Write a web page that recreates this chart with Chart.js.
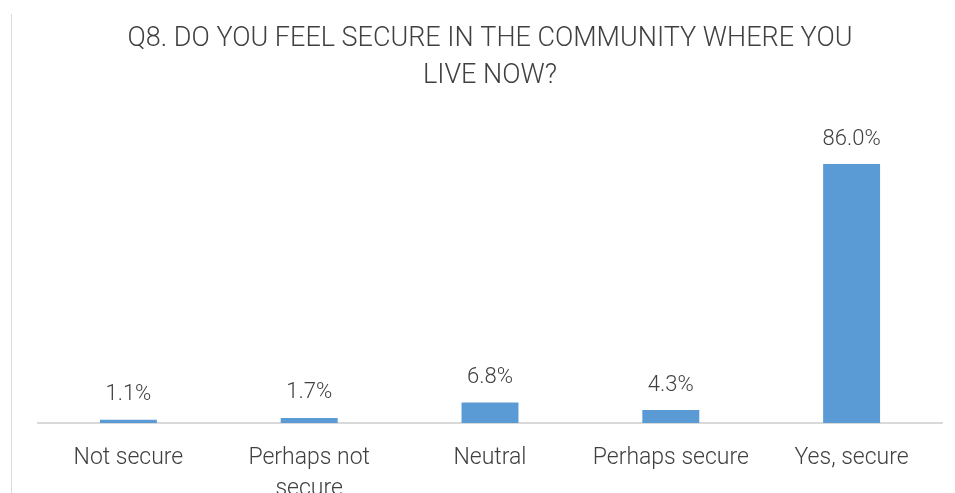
<!DOCTYPE html>
<html>
<head>
<meta charset="utf-8">
<script src="https://cdn.jsdelivr.net/npm/chart.js@4"></script>
<style>
  html, body { margin: 0; padding: 0; background: #fff; overflow: hidden; }
  #frame { position: absolute; left: 11px; top: 14px; width: 944px; height: 500px; border-left: 1px solid #d9d9d9; }
  #wrap { position: absolute; left: 0; top: 0; width: 955px; height: 520px; }
</style>
</head>
<body>
<div id="frame"></div>
<div id="wrap"><canvas id="myChart"></canvas></div>
<script>
var categories = ['Not secure', ['Perhaps not', 'secure'], 'Neutral', 'Perhaps secure', 'Yes, secure'];
var percents = [1.1, 1.7, 6.8, 4.3, 86.0];

var textColor = '#404040';
var fontName = 'Roboto';

// value label above each bar
var valueLabels = {
    id: 'valueLabels',
    afterDatasetsDraw: function(chart) {
        var ctx = chart.ctx;
        var meta = chart.getDatasetMeta(0);
        ctx.save();
        ctx.font = '300 22px ' + fontName;
        ctx.fillStyle = textColor;
        ctx.textAlign = 'center';
        ctx.textBaseline = 'middle';
        meta.data.forEach(function(bar, i) {
            ctx.fillText(percents[i].toFixed(1) + '%', bar.x, bar.y - 25);
        });
        ctx.restore();
    }
};

var ctx = document.getElementById('myChart').getContext('2d');
var chart = new Chart(ctx, {
    type: 'bar',
    data: {
        labels: categories,
        datasets: [{
            label: 'Q8',
            backgroundColor: '#5b9bd5',
            data: percents,
            categoryPercentage: 1,
            barPercentage: 0.315
        }]
    },
    options: {
        responsive: true,
        maintainAspectRatio: false,
        animation: false,
        layout: { padding: { left: 38, right: 13, top: 0, bottom: 0 } },
        plugins: {
            legend: { display: false },
            tooltip: { enabled: false },
            title: {
                display: true,
                fullSize: false,
                text: ['Q8. DO YOU FEEL SECURE IN THE COMMUNITY WHERE YOU', 'LIVE NOW?'],
                color: textColor,
                font: { family: fontName, size: 27, weight: '300', lineHeight: 1.37 },
                padding: { top: 21, bottom: 27 }
            }
        },
        scales: {
            x: {
                grid: { display: false, drawTicks: false },
                border: { color: '#d9d9d9', width: 2 },
                ticks: {
                    color: textColor,
                    padding: 20,
                    maxRotation: 0,
                    autoSkip: false,
                    font: { family: fontName, size: 23, weight: '300', lineHeight: 1.35 }
                },
                afterFit: function(scale) { scale.height = 97; }
            },
            y: {
                display: false,
                min: 0,
                max: 100
            }
        }
    },
    plugins: [valueLabels]
});
</script>
</body>
</html>
